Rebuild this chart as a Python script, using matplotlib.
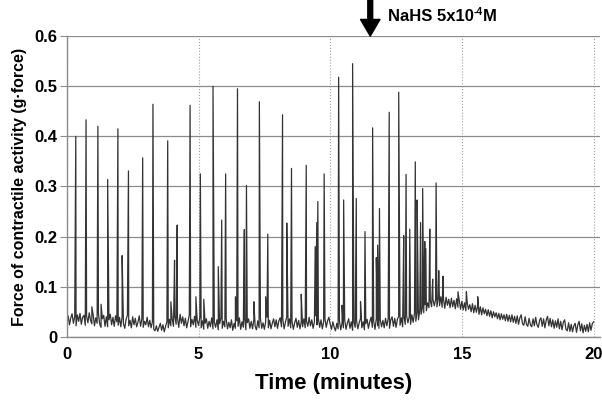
import numpy as np
import matplotlib
matplotlib.use('Agg')
import matplotlib.pyplot as plt

plt.rcParams['font.family'] = ['Liberation Sans', 'DejaVu Sans']

# baseline of the recording, one row per minute, sampled every 0.05 min
baseline_rows = [
    [0.030, 0.042, 0.024, 0.038, 0.046, 0.027, 0.040, 0.022, 0.044, 0.031, 0.047, 0.025, 0.039, 0.043, 0.023, 0.041, 0.028, 0.048, 0.033, 0.026],
    [0.044, 0.022, 0.038, 0.027, 0.046, 0.025, 0.019, 0.036, 0.043, 0.021, 0.040, 0.020, 0.034, 0.045, 0.024, 0.039, 0.021, 0.042, 0.030, 0.023],
    [0.039, 0.020, 0.041, 0.026, 0.017, 0.035, 0.043, 0.022, 0.033, 0.018, 0.040, 0.024, 0.037, 0.020, 0.029, 0.042, 0.021, 0.036, 0.019, 0.031],
    [0.024, 0.039, 0.020, 0.033, 0.018, 0.030, 0.015, 0.012, 0.022, 0.011, 0.019, 0.027, 0.013, 0.024, 0.010, 0.021, 0.030, 0.018, 0.035, 0.022],
    [0.036, 0.021, 0.042, 0.025, 0.038, 0.019, 0.045, 0.027, 0.040, 0.022, 0.037, 0.018, 0.031, 0.043, 0.020, 0.035, 0.024, 0.041, 0.019, 0.033],
    [0.023, 0.039, 0.018, 0.032, 0.015, 0.027, 0.036, 0.017, 0.031, 0.020, 0.038, 0.016, 0.029, 0.019, 0.034, 0.014, 0.026, 0.037, 0.017, 0.031],
    [0.020, 0.036, 0.016, 0.029, 0.018, 0.034, 0.013, 0.027, 0.017, 0.032, 0.021, 0.038, 0.015, 0.030, 0.019, 0.035, 0.014, 0.028, 0.036, 0.017],
    [0.031, 0.016, 0.034, 0.021, 0.014, 0.032, 0.018, 0.037, 0.017, 0.028, 0.015, 0.030, 0.039, 0.018, 0.033, 0.016, 0.027, 0.036, 0.020, 0.034],
    [0.017, 0.032, 0.038, 0.020, 0.035, 0.016, 0.029, 0.040, 0.021, 0.036, 0.018, 0.031, 0.015, 0.028, 0.037, 0.019, 0.033, 0.016, 0.030, 0.020],
    [0.036, 0.018, 0.031, 0.021, 0.039, 0.022, 0.034, 0.017, 0.030, 0.042, 0.024, 0.037, 0.019, 0.034, 0.016, 0.030, 0.036, 0.019, 0.032, 0.039],
    [0.025, 0.015, 0.030, 0.019, 0.012, 0.027, 0.016, 0.032, 0.014, 0.028, 0.018, 0.034, 0.015, 0.027, 0.036, 0.017, 0.030, 0.013, 0.029, 0.019],
    [0.032, 0.016, 0.028, 0.037, 0.018, 0.030, 0.014, 0.026, 0.035, 0.017, 0.030, 0.039, 0.019, 0.032, 0.015, 0.036, 0.022, 0.017, 0.034, 0.020],
    [0.033, 0.018, 0.037, 0.022, 0.036, 0.017, 0.034, 0.040, 0.021, 0.037, 0.019, 0.035, 0.041, 0.023, 0.038, 0.020, 0.040, 0.025, 0.042, 0.028],
    [0.040, 0.025, 0.044, 0.029, 0.047, 0.031, 0.050, 0.034, 0.053, 0.045, 0.058, 0.048, 0.064, 0.052, 0.068, 0.058, 0.072, 0.060, 0.075, 0.062],
    [0.074, 0.060, 0.078, 0.062, 0.080, 0.059, 0.076, 0.057, 0.079, 0.063, 0.075, 0.058, 0.077, 0.060, 0.073, 0.056, 0.076, 0.059, 0.072, 0.055],
    [0.071, 0.054, 0.068, 0.052, 0.069, 0.055, 0.064, 0.050, 0.066, 0.048, 0.063, 0.049, 0.062, 0.045, 0.060, 0.044, 0.058, 0.046, 0.055, 0.042],
    [0.054, 0.041, 0.052, 0.038, 0.050, 0.040, 0.048, 0.036, 0.047, 0.034, 0.046, 0.035, 0.044, 0.032, 0.045, 0.031, 0.043, 0.030, 0.044, 0.029],
    [0.041, 0.027, 0.042, 0.025, 0.038, 0.044, 0.026, 0.023, 0.040, 0.025, 0.021, 0.037, 0.024, 0.020, 0.036, 0.022, 0.039, 0.024, 0.019, 0.033],
    [0.038, 0.021, 0.036, 0.018, 0.033, 0.041, 0.022, 0.037, 0.020, 0.034, 0.017, 0.032, 0.019, 0.036, 0.016, 0.031, 0.014, 0.029, 0.034, 0.015],
    [0.012, 0.028, 0.011, 0.025, 0.010, 0.022, 0.027, 0.009, 0.024, 0.031, 0.012, 0.026, 0.008, 0.023, 0.011, 0.025, 0.010, 0.028, 0.013, 0.026],
]
baseline_end = 0.030  # value at 20.0 min

# contraction peaks: time (min) and peak force (g)
spike_times = [0.34, 0.73, 0.95, 1.18, 1.30, 1.55, 1.94, 2.10, 2.34, 2.88, 3.27,
               3.83, 3.95, 4.09, 4.19, 4.68, 4.90, 5.07, 5.20, 5.55, 5.75, 5.88,
               6.03, 6.40, 6.48, 6.74, 6.82, 7.10, 7.31, 7.55, 7.63, 8.19, 8.35,
               8.53, 8.90, 9.09, 9.43, 9.49, 9.53, 9.77, 10.32, 10.45, 10.51,
               10.85, 10.99, 11.15, 11.32, 11.61, 11.75, 11.80, 11.87, 12.24,
               12.60, 12.79, 12.88, 13.02, 13.23, 13.30, 13.43, 13.51, 13.59,
               13.63, 13.78, 13.89, 14.02, 14.12, 14.28, 14.85, 15.17, 15.60]
spike_heights = [0.400, 0.433, 0.060, 0.420, 0.065, 0.314, 0.415, 0.162, 0.331, 0.357, 0.464,
                 0.391, 0.070, 0.153, 0.223, 0.462, 0.080, 0.325, 0.075, 0.500, 0.140, 0.233,
                 0.325, 0.080, 0.495, 0.214, 0.302, 0.070, 0.469, 0.080, 0.205, 0.443, 0.227,
                 0.336, 0.085, 0.342, 0.180, 0.228, 0.270, 0.325, 0.518, 0.063, 0.273,
                 0.545, 0.276, 0.070, 0.210, 0.417, 0.158, 0.183, 0.256, 0.448,
                 0.488, 0.202, 0.324, 0.215, 0.349, 0.273, 0.228, 0.296, 0.190,
                 0.176, 0.215, 0.115, 0.307, 0.132, 0.121, 0.090, 0.090, 0.080]

base_t = np.round(np.arange(0, 20.0, 0.05), 2)
base_v = np.concatenate(baseline_rows)
base_t = np.append(base_t, 20.0)
base_v = np.append(base_v, baseline_end)

t = np.concatenate([base_t, spike_times])
v = np.concatenate([base_v, spike_heights])
order = np.argsort(t, kind='stable')
t, v = t[order], v[order]

fig = plt.figure(figsize=(6.02, 4.01), dpi=100)
ax = fig.add_axes([0.111, 0.16, 0.886, 0.75])

ax.plot(t, v, color='#333333', lw=0.9)

ax.set_xlim(0, 20.25)
ax.set_ylim(0, 0.6)
ax.set_xticks([0, 5, 10, 15, 20])
ax.set_yticks([0, 0.1, 0.2, 0.3, 0.4, 0.5, 0.6])
ax.set_yticklabels(['0', '0.1', '0.2', '0.3', '0.4', '0.5', '0.6'])

ax.grid(axis='y', color='#8c8c8c', lw=0.9, ls='-')
ax.grid(axis='x', color='#a0a0a0', lw=0.8, ls=':')
ax.set_axisbelow(True)

for s in ['top', 'right']:
    ax.spines[s].set_visible(False)
for s in ['left', 'bottom']:
    ax.spines[s].set_color('#8c8c8c')
    ax.spines[s].set_linewidth(1.0)

ax.tick_params(axis='y', length=5, color='#8c8c8c', labelsize=12, pad=2)
ax.tick_params(axis='x', length=0, labelsize=12, pad=7)
for lbl in ax.get_xticklabels() + ax.get_yticklabels():
    lbl.set_fontweight('bold')

ax.set_xlabel('Time (minutes)', fontsize=16, fontweight='bold', labelpad=8)
ax.set_ylabel('Force of contractile activity (g·force)', fontsize=11.5,
              fontweight='bold', labelpad=5)

# treatment marker
ax.annotate('', xy=(11.52, 0.6), xytext=(11.52, 0.675),
            arrowprops=dict(facecolor='black', edgecolor='black', width=3.5,
                            headwidth=14, headlength=12),
            annotation_clip=False)
t1 = ax.text(12.2, 0.63, 'NaHS 5x10', fontsize=12, fontweight='bold',
             va='baseline', ha='left', clip_on=False)
t2 = ax.annotate('-4', xy=(1, 0.45), xycoords=t1, fontsize=7.5, fontweight='bold',
                 va='bottom', ha='left', annotation_clip=False)
ax.annotate('M', xy=(1, 0), xycoords=(t2, t1), fontsize=12, fontweight='bold',
            va='bottom', ha='left', annotation_clip=False)

plt.savefig('out.png', dpi=100)
